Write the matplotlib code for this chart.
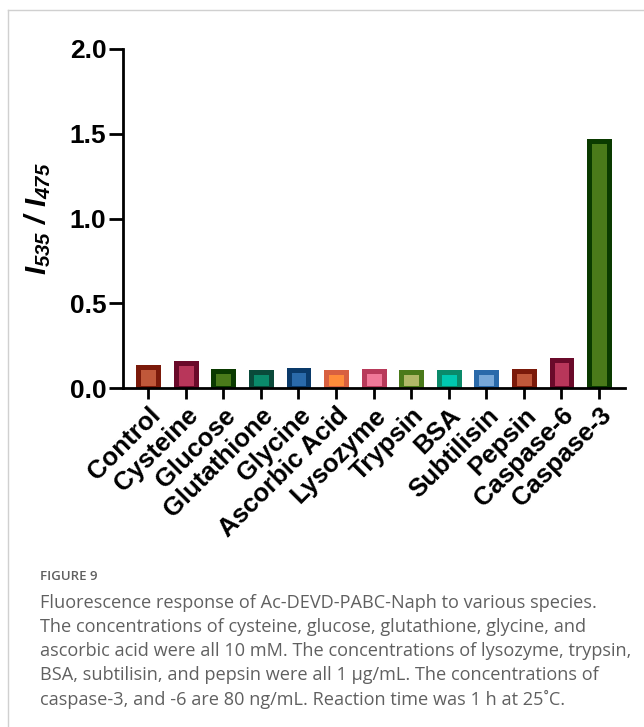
import matplotlib
matplotlib.use("Agg")
import matplotlib.pyplot as plt
from matplotlib.lines import Line2D

plt.rcParams['mathtext.fontset'] = 'custom'
plt.rcParams['mathtext.rm'] = 'Liberation Sans:bold:italic'
plt.rcParams['mathtext.it'] = 'Liberation Sans:bold:italic'
plt.rcParams['mathtext.bf'] = 'Liberation Sans:bold:italic'

categories = ["Control", "Cysteine", "Glucose", "Glutathione", "Glycine",
              "Ascorbic Acid", "Lysozyme", "Trypsin", "BSA", "Subtilisin",
              "Pepsin", "Caspase-6", "Caspase-3"]
values = [0.125, 0.150, 0.100, 0.097, 0.108, 0.094, 0.102, 0.097, 0.097,
          0.097, 0.100, 0.163, 1.455]
face_colors = ["#C0583A", "#B8365A", "#4A7A1A", "#0A8A6A", "#2A6AAA",
               "#FF8C3A", "#F07898", "#B0B868", "#00C8B0", "#78A8D8",
               "#C0583A", "#B8365A", "#4A7A1A"]
edge_colors = ["#7B1A0A", "#6A0A2A", "#0A3A00", "#0A4A3A", "#0A3A6A",
               "#D86040", "#B83A5A", "#4A7A1A", "#0A8A6A", "#2A6AAA",
               "#7B1A0A", "#6A0A2A", "#0A3A00"]
yticks = [0.0, 0.5, 1.0, 1.5, 2.0]

fig = plt.figure(figsize=(6.44, 7.27), dpi=100)

# outer frame (left + top light gray lines)
fig.add_artist(Line2D([7.5/644, 7.5/644], [0, 1 - 10/727], color="#d0d0d0", lw=1.0))
fig.add_artist(Line2D([7.5/644, 1], [1 - 10/727, 1 - 10/727], color="#d0d0d0", lw=1.0))

ax = fig.add_axes([123/644, 1 - 388/727, (625 - 123)/644, (388 - 49)/727])
x = list(range(len(categories)))
ax.bar(x, values, width=0.53, color=face_colors, edgecolor=edge_colors,
       linewidth=3.6, zorder=2, joinstyle='miter')
ax.set_xlim(-0.67, 12.69)
ax.set_ylim(0, 2.0)
ax.set_yticks(yticks)
ax.set_yticklabels([f"{v:.1f}" for v in yticks], fontfamily="Liberation Sans",
                   fontweight="bold", fontsize=19)
ax.set_xticks(x)
ax.set_xticklabels(categories, rotation=45, ha="right", rotation_mode="anchor",
                   fontfamily="Liberation Sans", fontweight="bold", fontsize=18.5)
for s in ["top", "right"]:
    ax.spines[s].set_visible(False)
for s in ["left", "bottom"]:
    ax.spines[s].set_linewidth(2.0)
    ax.spines[s].set_zorder(3)
ax.tick_params(axis="y", length=10, width=2.0, pad=2)
ax.tick_params(axis="x", length=8, width=2.0, pad=3)
ax.set_ylabel(r"$I_{535}\ /\ I_{475}$", fontsize=21, labelpad=12)

# caption
cap_color = "#606060"
fig.text(40/644, 1 - 577/727, "FIGURE 9", fontfamily="Open Sans", fontweight="semibold",
         fontsize=9.5, color=cap_color, va="center")
lines = [
    "Fluorescence response of Ac-DEVD-PABC-Naph to various species.",
    "The concentrations of cysteine, glucose, glutathione, glycine, and",
    "ascorbic acid were all 10 mM. The concentrations of lysozyme, trypsin,",
    "BSA, subtilisin, and pepsin were all 1 \u03bcg/mL. The concentrations of",
    "caspase-3, and -6 are 80 ng/mL. Reaction time was 1 h at 25\u02daC.",
]
for i, t in enumerate(lines):
    fig.text(40/644, 1 - (603 + 24 * i)/727, t, fontfamily="Open Sans",
             fontsize=13.1, color=cap_color, va="center")

fig.savefig("out.png", dpi=100)
